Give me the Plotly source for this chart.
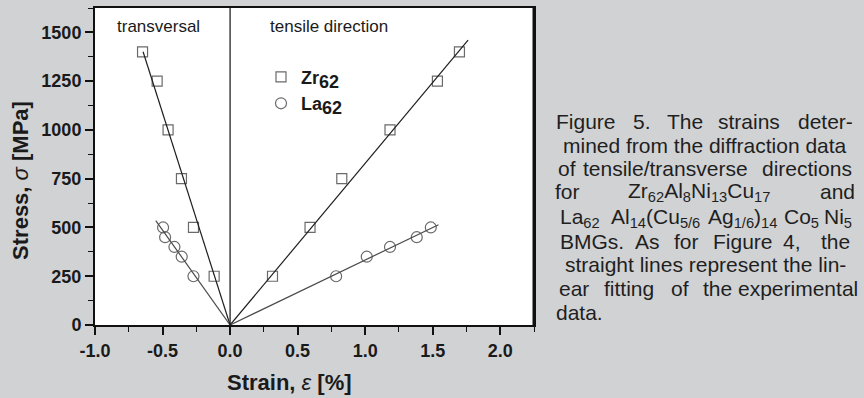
import plotly.graph_objects as go

# ---------------- data ----------------
zr_trans_strain = [-0.648, -0.540, -0.459, -0.360, -0.271, -0.118]
zr_trans_stress = [1400, 1250, 1000, 750, 500, 250]
la_trans_strain = [-0.496, -0.481, -0.412, -0.358, -0.271]
la_trans_stress = [500, 450, 400, 350, 250]
zr_tens_strain = [0.314, 0.592, 0.827, 1.184, 1.535, 1.698]
zr_tens_stress = [250, 500, 750, 1000, 1250, 1400]
la_tens_strain = [0.785, 1.012, 1.184, 1.382, 1.486]
la_tens_stress = [250, 350, 400, 450, 500]

# linear-fit lines (end points)
zr_trans_fit_x = [-0.644, 0.0]
zr_trans_fit_y = [1401, 0]
la_trans_fit_x = [-0.55, 0.0]
la_trans_fit_y = [535, 0]
zr_tens_fit_x = [0.0, 1.762]
zr_tens_fit_y = [0, 1460]
la_tens_fit_x = [0.0, 1.543]
la_tens_fit_y = [0, 514]

y_ticks = [0, 250, 500, 750, 1000, 1250, 1500]
x_ticks = [-1.0, -0.5, 0.0, 0.5, 1.0, 1.5, 2.0]

# ---------------- layout geometry ----------------
W, H = 864, 398
L, R, T, B = 95, 330, 6, 73
PW, PH = W - L - R, H - T - B
BG = "#d1d2d4"
FONT = "Liberation Sans, Arial, sans-serif"

def px(x):
    return (x - L) / PW

def py(y):
    return (H - B - y) / PH

fig = go.Figure()

mk_col = "#6a6a6a"
fig.add_trace(go.Scatter(
    x=zr_trans_strain + zr_tens_strain, y=zr_trans_stress + zr_tens_stress,
    mode="markers", name="Zr<sub><span style='font-size:18px'>62</span></sub>",
    marker=dict(symbol="square-open", size=10, color=mk_col, line=dict(width=1.2, color=mk_col)),
))
fig.add_trace(go.Scatter(
    x=la_trans_strain + la_tens_strain, y=la_trans_stress + la_tens_stress,
    mode="markers", name="La<sub><span style='font-size:18px'>62</span></sub>",
    marker=dict(symbol="circle-open", size=11, color=mk_col, line=dict(width=1.2, color=mk_col)),
))

for fx, fy, col in [(zr_trans_fit_x, zr_trans_fit_y, "#1e1e1e"),
                    (la_trans_fit_x, la_trans_fit_y, "#4a4a4a"),
                    (zr_tens_fit_x, zr_tens_fit_y, "#1e1e1e"),
                    (la_tens_fit_x, la_tens_fit_y, "#4a4a4a")]:
    fig.add_trace(go.Scatter(x=fx, y=fy, mode="lines", showlegend=False,
                             line=dict(color=col, width=1.2), hoverinfo="skip"))

# vertical divider at zero strain
fig.add_shape(type="line", xref="x", yref="paper", x0=0, x1=0, y0=0, y1=1,
              line=dict(color="#111111", width=1.2))
# thicker right border
fig.add_shape(type="line", xref="paper", yref="paper", x0=1, x1=1, y0=0, y1=1,
              line=dict(color="#111111", width=3))

axis_common = dict(
    showgrid=False, zeroline=False, showline=True, linecolor="#111111", linewidth=2,
    mirror=True, ticks="outside", ticklen=8, tickwidth=1.5, tickcolor="#111111",
    tickfont=dict(family=FONT, size=18, color="#1a1a1a", weight="bold"),
)
fig.update_xaxes(range=[-1.0, 2.25], tickvals=x_ticks,
                 ticktext=[f"{v:.1f}" for v in x_ticks],
                 minor=dict(dtick=0.25, ticks="outside", ticklen=5, tickwidth=1.2, tickcolor="#111111"),
                 **axis_common)
fig.update_yaxes(range=[0, 1625], tickvals=y_ticks,
                 ticktext=[str(v) for v in y_ticks],
                 minor=dict(dtick=125, ticks="outside", ticklen=5, tickwidth=1.2, tickcolor="#111111"),
                 **axis_common)

ann = []
# axis titles
ann.append(dict(x=px(21), y=py(180), xref="paper", yref="paper", showarrow=False,
                xanchor="center", yanchor="middle",
                text="<b>Stress, </b><i>σ</i><b> [MPa]</b>", textangle=-90,
                font=dict(family=FONT, size=22, color="#1a1a1a")))
ann.append(dict(x=px(289), y=py(383), xref="paper", yref="paper", showarrow=False,
                xanchor="center", yanchor="middle",
                text="<b>Strain, </b><i>ε</i><b> [%]</b>",
                font=dict(family=FONT, size=22, color="#1a1a1a")))
# panel labels
ann.append(dict(x=px(115), y=py(25), xref="paper", yref="paper", showarrow=False,
                xanchor="left", yanchor="middle", text="transversal",
                font=dict(family=FONT, size=17, color="#1a1a1a")))
ann.append(dict(x=px(268), y=py(25), xref="paper", yref="paper", showarrow=False,
                xanchor="left", yanchor="middle", text="tensile direction",
                font=dict(family=FONT, size=17, color="#1a1a1a")))

# caption (word positions mimic the justified text)
caption_lines = [
    (120, [("Figure", 586), ("5.", 641.5), ("The", 685), ("strains", 749), ("deter-", 825)]),
    (144, [("mined from the diffraction data", 705)]),
    (168, [("of", 567), ("tensile/transverse", 665), ("directions", 806.5)]),
    (191, [("for", 567.5),
           ("Zr<sub>62</sub>Al<sub>8</sub>Ni<sub>13</sub>Cu<sub>17</sub>", 698.5),
           ("and", 837.5)]),
    (217.5, [("La<sub>62</sub>", 580), ("Al<sub>14</sub>(Cu<sub>5/6</sub>", 655),
             ("Ag<sub>1/6</sub>)<sub>14</sub>", 742), ("Co<sub>5</sub>", 801), ("Ni<sub>5</sub>", 838)]),
    (240.5, [("BMGs.", 592), ("As", 647.5), ("for", 686.5), ("Figure", 742.5), ("4,", 791.5), ("the", 835.5)]),
    (264, [("straight lines represent the lin-", 705)]),
    (288, [("ear", 573.5), ("fitting", 629), ("of", 680), ("the", 717.5), ("experimental", 798)]),
    (312, [("data.", 579)]),
]
for yy, words in caption_lines:
    for txt, xc in words:
        ann.append(dict(x=px(xc), y=py(yy), xref="paper", yref="paper", showarrow=False,
                        xanchor="center", yanchor="middle", text=txt,
                        font=dict(family=FONT, size=21, color="#1f1f1f")))

fig.update_layout(
    width=W, height=H,
    margin=dict(l=L, r=R, t=T, b=B, pad=0),
    paper_bgcolor=BG, plot_bgcolor="white",
    font=dict(family=FONT, color="#1a1a1a"),
    showlegend=True,
    legend=dict(x=px(261), y=py(57), xanchor="left", yanchor="top",
                bgcolor="rgba(0,0,0,0)", borderwidth=0,
                font=dict(family=FONT, size=18, color="#1a1a1a", weight="bold"),
                itemwidth=30, tracegroupgap=0),
    annotations=ann,
)

fig.write_html("out.html")
